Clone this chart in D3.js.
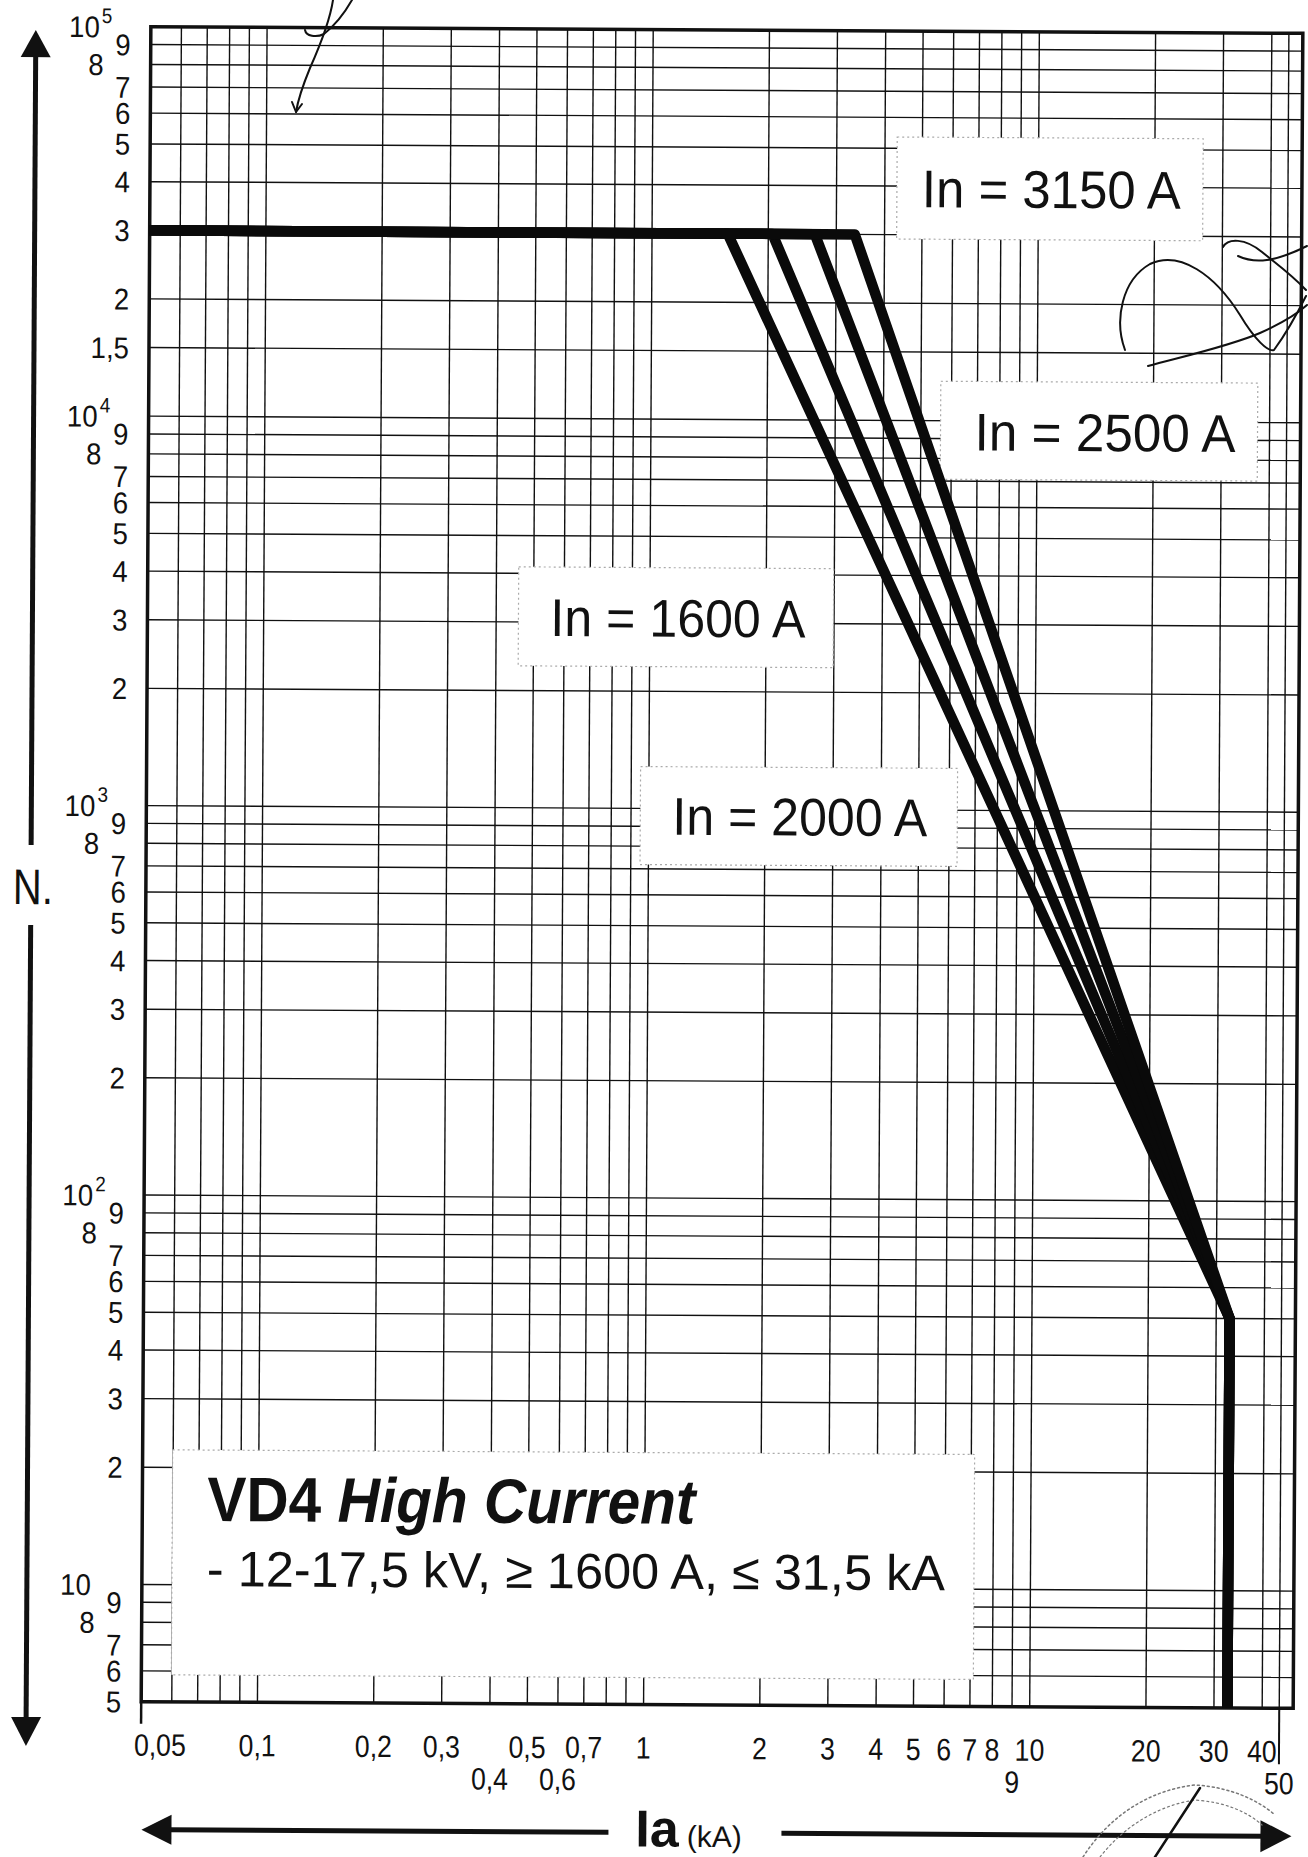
<!DOCTYPE html>
<html>
<head>
<meta charset="utf-8">
<script src="https://cdn.jsdelivr.net/npm/d3@7/dist/d3.min.js"></script>
<style>
  html, body { margin:0; padding:0; background:#fff; }
  svg { display:block; }
  text { font-family: "Liberation Sans", Arial, Helvetica, sans-serif; fill:#111; }
</style>
</head>
<body>
<svg id="chart" width="1308" height="1857"></svg>
<script>
// ================= DATA =================
const seriesLabels  = ["In = 1600 A", "In = 2000 A", "In = 2500 A", "In = 3150 A"];
const breakCurrents = [1.57, 2.05, 2.64, 3.35];   // kA where each curve leaves the plateau
const plateauOps    = 30000;                      // N on the plateau
const kneeCurrent   = 32.5;                       // kA, common end of sloped part
const kneeOps       = 50;                         // N at the knee
const minOps        = 5;                          // N at the bottom of the vertical part
const minCurrent    = 0.05;                       // kA, left end of plateau

const xGridValues = [0.05,0.06,0.07,0.08,0.09,0.1,0.2,0.3,0.4,0.5,0.6,0.7,0.8,0.9,
                     1,2,3,4,5,6,7,8,9,10,20,30,40,50];
const xTickValuesRow1 = [0.05,0.1,0.2,0.3,0.5,0.7,1,2,3,4,5,6,7,8,10,20,30,40];
const xTickLabelsRow1 = ["0,05","0,1","0,2","0,3","0,5","0,7","1","2","3","4","5","6","7","8","10","20","30","40"];
const xTickValuesRow2 = [0.4,0.6,9,50];
const xTickLabelsRow2 = ["0,4","0,6","9","50"];

const yGridValues = [5,6,7,8,9,10,20,30,40,50,60,70,80,90,100,200,300,400,500,600,700,800,900,
                     1000,2000,3000,4000,5000,6000,7000,8000,9000,10000,15000,
                     20000,30000,40000,50000,60000,70000,80000,90000,100000];
const yTickValues = [100000,90000,80000,70000,60000,50000,40000,30000,20000,15000,
                     10000,9000,8000,7000,6000,5000,4000,3000,2000,
                     1000,900,800,700,600,500,400,300,200,
                     100,90,80,70,60,50,40,30,20,
                     10,9,8,7,6,5];
const yTickLabels = ["10","9","8","7","6","5","4","3","2","1,5",
                     "10","9","8","7","6","5","4","3","2",
                     "10","9","8","7","6","5","4","3","2",
                     "10","9","8","7","6","5","4","3","2",
                     "10","9","8","7","6","5"];
const yTickExponents = ["5","","","","","","","","","",
                        "4","","","","","","","","",
                        "3","","","","","","","","",
                        "2","","","","","","","","",
                        "","","","","",""];

const titleBold   = "VD4";
const titleItalic = "High Current";
const subtitle    = "- 12-17,5 kV, \u2265 1600 A, \u2264 31,5 kA";
const yAxisTitle  = "N.";
const xAxisTitle  = "Ia";
const xAxisUnit   = "(kA)";

// ================= LAYOUT =================
const L = {
  left: 146, right: 1298, top: 30, bottom: 1705,
  xBreak: 1267, xDomainBreak: 40, xDomainMax: 60,
  rot: 0.33, cx: 720, cy: 870,
  grid: 1.4, frame: 3.5, curve: 10.5
};
const seriesBoxes = [
  {x:517, y:568, w:315, h:99,  tx:549, ty:637, tw:255},
  {x:640, y:767, w:317, h:98,  tx:672, ty:835, tw:255},
  {x:938, y:380, w:317, h:98,  tx:972, ty:449, tw:261},
  {x:893, y:136, w:306, h:102, tx:918, ty:206, tw:259}
];
const titleBox = {x:176, y:1453, w:802, h:225};

// ================= SCALES =================
const x = d3.scaleLog()
  .domain([minCurrent, L.xDomainBreak, L.xDomainMax])
  .range([L.left, L.xBreak, L.right]);
const y = d3.scaleLog()
  .domain([100000, minOps])
  .range([L.top, L.bottom]);

const svg = d3.select("#chart");
const root = svg.append("g").attr("transform", `rotate(${L.rot},${L.cx},${L.cy})`);

// ================= GRID =================
const grid = root.append("g").attr("stroke", "#111").attr("stroke-width", L.grid);
grid.selectAll("line.v").data(xGridValues).join("line")
  .attr("x1", d => x(d)).attr("x2", d => x(d))
  .attr("y1", L.top).attr("y2", L.bottom);
grid.selectAll("line.h").data(yGridValues).join("line")
  .attr("x1", L.left).attr("x2", L.right)
  .attr("y1", d => y(d)).attr("y2", d => y(d));

root.append("rect")
  .attr("x", L.left).attr("y", L.top)
  .attr("width", L.right - L.left).attr("height", L.bottom - L.top)
  .attr("fill", "none").attr("stroke", "#111").attr("stroke-width", L.frame);

root.append("line").attr("x1", x(minCurrent)).attr("x2", x(minCurrent))
  .attr("y1", L.bottom).attr("y2", L.bottom + 22).attr("stroke", "#111").attr("stroke-width", 2.5);
root.append("line").attr("x1", x(50)).attr("x2", x(50))
  .attr("y1", L.bottom).attr("y2", L.bottom + 56).attr("stroke", "#111").attr("stroke-width", 2);

// ================= LABEL BOXES =================
const boxes = [...seriesBoxes, titleBox];
root.append("g").selectAll("rect").data(boxes).join("rect")
  .attr("x", d => d.x).attr("y", d => d.y).attr("width", d => d.w).attr("height", d => d.h)
  .attr("fill", "#fff").attr("stroke", "#aaa").attr("stroke-width", 1.2)
  .attr("stroke-dasharray", "2,3");

// ================= CURVES =================
const curveData = breakCurrents.map(b => [
  [minCurrent, plateauOps], [b, plateauOps], [kneeCurrent, kneeOps], [kneeCurrent, minOps]
]);
const line = d3.line().x(d => x(d[0])).y(d => y(d[1]));
root.append("g").selectAll("path").data(curveData).join("path")
  .attr("d", line)
  .attr("fill", "none").attr("stroke", "#0a0a0a")
  .attr("stroke-width", L.curve).attr("stroke-linejoin", "round").attr("stroke-linecap", "butt");

// ================= SERIES LABELS =================
root.append("g").selectAll("text").data(seriesLabels).join("text")
  .attr("x", (d, i) => seriesBoxes[i].tx).attr("y", (d, i) => seriesBoxes[i].ty)
  .attr("font-size", 53).attr("textLength", (d, i) => seriesBoxes[i].tw)
  .attr("lengthAdjust", "spacingAndGlyphs")
  .text(d => d);

// ================= TITLE =================
const t1 = root.append("text").attr("x", titleBox.x + 35).attr("y", 1524)
  .attr("font-size", 63).attr("font-weight", "bold")
  .attr("textLength", 488).attr("lengthAdjust", "spacingAndGlyphs");
t1.append("tspan").text(titleBold + " ");
t1.append("tspan").attr("font-style", "italic").text(titleItalic);
root.append("text").attr("x", titleBox.x + 35).attr("y", 1589)
  .attr("font-size", 50).attr("textLength", 738).attr("lengthAdjust", "spacingAndGlyphs")
  .text(subtitle);

// ================= Y TICK LABELS =================
const yLab = root.append("g").attr("font-size", 30);
yTickValues.forEach((v, i) => {
  const lab = yTickLabels[i];
  const isDecade = lab === "10";
  const isEight = lab === "8";
  const xr = isDecade ? L.left - 51 : (isEight ? L.left - 47 : L.left - 20);
  yLab.append("text")
    .attr("transform", `translate(${xr},${y(v)}) scale(0.92,1)`)
    .attr("dy", "0.36em")
    .attr("text-anchor", "end").text(lab);
  if (yTickExponents[i]) {
    yLab.append("text")
      .attr("transform", `translate(${xr + 2},${y(v) - 11}) scale(0.9,1)`)
      .attr("dy", "0.36em")
      .attr("font-size", 21).text(yTickExponents[i]);
  }
});

// ================= X TICK LABELS =================
const xLab = root.append("g").attr("font-size", 31);
xLab.selectAll("text.r1").data(xTickValuesRow1).join("text")
  .attr("transform", (d, i) => `translate(${i === 0 ? x(d) - 7 : x(d)},${L.bottom + 54}) scale(0.86,1)`)
  .attr("text-anchor", (d, i) => i === 0 ? "start" : "middle")
  .text((d, i) => xTickLabelsRow1[i]);
xLab.selectAll("text.r2").data(xTickValuesRow2).join("text")
  .attr("transform", d => `translate(${x(d)},${L.bottom + 86}) scale(0.86,1)`)
  .attr("text-anchor", "middle")
  .text((d, i) => xTickLabelsRow2[i]);

// ================= AXIS ARROWS =================
const ax = root.append("g").attr("fill", "#111").attr("stroke", "#111");
const vx = 31;
ax.append("line").attr("x1", vx).attr("x2", vx).attr("y1", 58).attr("y2", 849).attr("stroke-width", 5);
ax.append("line").attr("x1", vx).attr("x2", vx).attr("y1", 929).attr("y2", 1724).attr("stroke-width", 5);
ax.append("path").attr("stroke", "none")
  .attr("d", `M${vx},34 L${vx - 15},61 L${vx + 15},61 Z`);
ax.append("path").attr("stroke", "none")
  .attr("d", `M${vx},1750 L${vx - 15},1721 L${vx + 15},1721 Z`);
const hy = 1833;
ax.append("line").attr("x1", 174).attr("x2", 614).attr("y1", hy).attr("y2", hy).attr("stroke-width", 5);
ax.append("line").attr("x1", 787).attr("x2", 1270).attr("y1", hy).attr("y2", hy).attr("stroke-width", 5);
ax.append("path").attr("stroke", "none")
  .attr("d", `M147,${hy} L177,${hy - 15} L177,${hy + 15} Z`);
ax.append("path").attr("stroke", "none")
  .attr("d", `M1297,${hy} L1266,${hy - 16} L1266,${hy + 16} Z`);

root.append("text").attr("x", 13).attr("y", 908)
  .attr("font-size", 50).attr("textLength", 40).attr("lengthAdjust", "spacingAndGlyphs")
  .text(yAxisTitle);
const xt = root.append("text").attr("x", 641).attr("y", 1847);
xt.append("tspan").attr("font-size", 52).attr("font-weight", "bold").text(xAxisTitle);
xt.append("tspan").attr("font-size", 30).attr("dx", 8).text(xAxisUnit);

// ================= SCAN MARKS (handwriting / stamp on the original sheet) =================
const marks = svg.append("g").attr("fill", "none").attr("stroke", "#111").attr("stroke-width", 2)
  .attr("stroke-linecap", "round");
marks.append("path").attr("d", "M333,0 C330,20 318,50 310,68 C303,85 298,100 296,112");
marks.append("path").attr("d", "M296,112 l-4,-10 M296,112 l6,-8");
marks.append("path").attr("d", "M352,0 C344,14 334,26 324,34 C316,38 306,36 305,30");
marks.append("path").attr("d", "M1125,350 C1114,320 1122,280 1150,264 C1180,250 1215,275 1240,315 C1255,340 1268,352 1274,350 C1285,335 1295,318 1306,296");
marks.append("path").attr("d", "M1223,247 C1228,238 1245,238 1262,252 C1278,265 1292,275 1306,290");
marks.append("path").attr("d", "M1238,256 C1255,264 1275,262 1307,246");
marks.append("path").attr("d", "M1148,366 C1185,356 1230,346 1260,333 C1280,324 1296,315 1307,305");
marks.append("path").attr("stroke", "#777").attr("stroke-width", 1.5).attr("stroke-dasharray", "2,3")
  .attr("d", "M1083,1857 C1110,1815 1150,1790 1195,1785 C1230,1787 1258,1800 1275,1815");
marks.append("path").attr("stroke", "#777").attr("stroke-width", 1.2).attr("stroke-dasharray", "2,3")
  .attr("d", "M1100,1857 C1125,1825 1160,1805 1195,1800 C1225,1802 1248,1812 1262,1825");
marks.append("path").attr("stroke-width", 2.5).attr("d", "M1200,1788 L1155,1857");
</script>
</body>
</html>
